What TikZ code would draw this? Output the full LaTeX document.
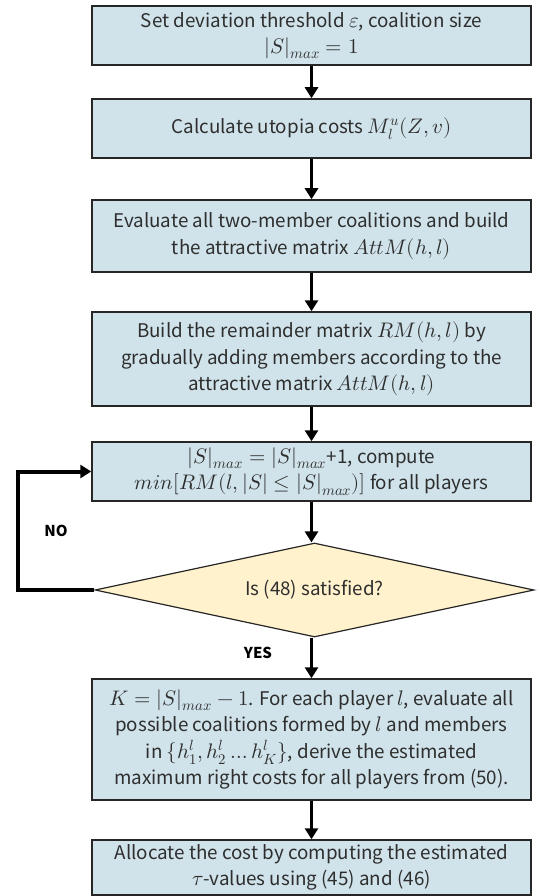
\documentclass[tikz,border=0pt]{standalone}
\usepackage{fontspec}
\usepackage{unicode-math}
\setmainfont{Noto Sans CJK SC}
\setmathfont{Latin Modern Math}[Scale=1.12]
\usetikzlibrary{shapes.geometric,arrows.meta,calc}
\definecolor{boxfill}{HTML}{D0E3EA}
\definecolor{diafill}{HTML}{FFF2CC}
\definecolor{edge}{HTML}{262626}
\definecolor{txt}{HTML}{2E2E2E}
\tikzset{
  stepbox/.style={draw=edge, line width=1.5pt, fill=boxfill, minimum width=439pt,
    inner sep=0pt, align=center, text=txt,
    font=\fontsize{18.8}{26.5}\selectfont},
  decbox/.style={draw=edge, line width=1.2pt, fill=diafill, shape=diamond, inner sep=0pt,
    minimum width=439pt, minimum height=94pt, aspect=4.67, text=txt,
    font=\fontsize{18.8}{26.5}\selectfont},
  arr/.style={line width=3pt, -{Triangle[length=11pt,width=13pt]}},
  lbl/.style={font=\fontsize{15}{18}\selectfont\bfseries, text=black}
}
\begin{document}
\begin{tikzpicture}[x=1pt,y=-1pt]
\useasboundingbox (0,0) rectangle (539,896);
\node[stepbox, minimum height=59pt] (b1) at (311.5,35.5)
  {Set deviation threshold $\varepsilon$, coalition size\\ $|S|_{max} = 1$};
\node[stepbox, minimum height=59pt] (b2) at (311.5,128.5)
  {Calculate utopia costs $M_l^u(Z,v)$};
\node[stepbox, minimum height=72pt] (b3) at (311.5,236)
  {Evaluate all two-member coalitions and build\\ the attractive matrix $AttM(h,l)$};
\node[stepbox, minimum height=94pt] (b4) at (311.5,359)
  {Build the remainder matrix $RM(h,l)$ by\\ gradually adding members according to the\\ attractive matrix $AttM(h,l)$};
\node[stepbox, minimum height=59pt] (b5) at (311.5,471.5)
  {$|S|_{max} = |S|_{max}$+1, compute\\ $min[RM(l,|S| \le |S|_{max})]$ for all players};
\node[decbox] (dia) at (314.5,590) {Is (48) satisfied?};
\node[stepbox, minimum height=121pt] (b6) at (311.5,739.5)
  {$K = |S|_{max} - 1$. For each player $l$, evaluate all\\ possible coalitions formed by $l$ and members\\ in $\{h_1^l, h_2^l \dots h_K^l\}$, derive the estimated\\ maximum right costs for all players from (50).};
\node[stepbox, minimum height=55pt] (b7) at (311.5,867.5)
  {Allocate the cost by computing the estimated\\ $\tau$-values using (45) and (46)};
\draw[arr] (b1) -- (b2);
\draw[arr] (b2) -- (b3);
\draw[arr] (b3) -- (b4);
\draw[arr] (b4) -- (b5);
\draw[arr] (b5) -- (b5 |- dia.north);
\draw[arr] (dia.south -| b6.north) -- (b6);
\draw[arr] (b6) -- (b7);
\coordinate (lp) at (18,530);
\draw[arr, line width=4pt] (dia.west) -| (lp) |- (b5.west);
\node[lbl] (no) at (56,531) {NO};
\node[lbl] (yes) at (258,653) {YES};
\end{tikzpicture}
\end{document}
